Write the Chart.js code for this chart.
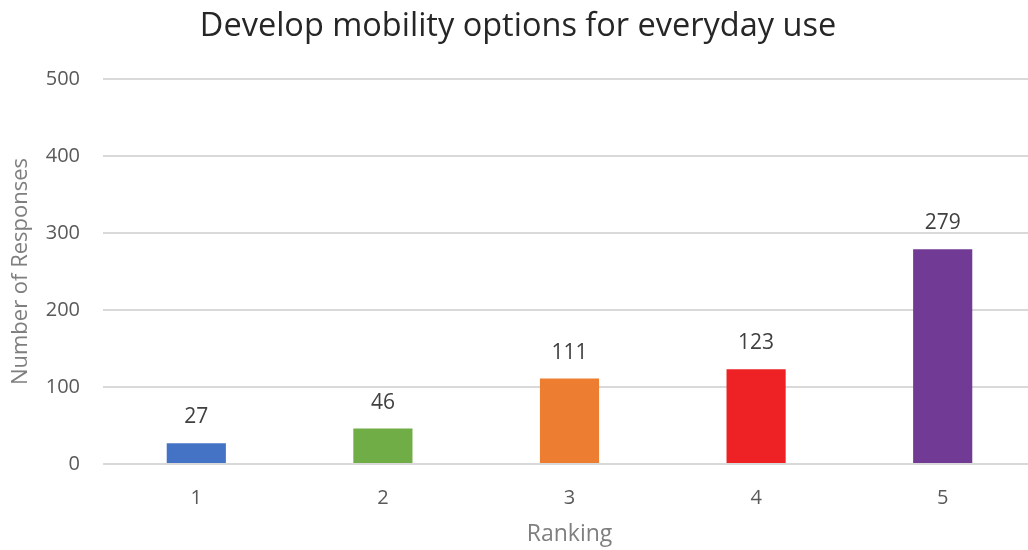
<!DOCTYPE html>
<html>
<head>
<meta charset="utf-8">
<script src="https://cdn.jsdelivr.net/npm/chart.js@4/dist/chart.umd.min.js"></script>
<style>
  html, body { margin: 0; padding: 0; background: #fff; overflow: hidden; }
  #wrap { width: 1028px; height: 550px; overflow: hidden; }
</style>
</head>
<body>
<div id="wrap"><canvas id="myChart" width="1040" height="550"></canvas></div>
<script>
const rankings = ['1', '2', '3', '4', '5'];
const responses = [27, 46, 111, 123, 279];
const barColors = ['#4472C4', '#70AD47', '#ED7D31', '#EE2224', '#703A95'];
const yTicks = [0, 100, 200, 300, 400, 500];

const fontFamily = '"Open Sans", "Liberation Sans", sans-serif';

// etiquetas de valor encima de cada barra
const valueLabels = {
    id: 'valueLabels',
    afterDatasetsDraw(chart) {
        const ctx = chart.ctx;
        const meta = chart.getDatasetMeta(0);
        ctx.save();
        ctx.font = '21px ' + fontFamily;
        ctx.fillStyle = '#404040';
        ctx.textAlign = 'center';
        ctx.textBaseline = 'middle';
        meta.data.forEach((bar, i) => {
            ctx.fillText(String(responses[i]), bar.x, bar.y - 26);
        });
        ctx.restore();
    }
};

const ctx = document.getElementById('myChart').getContext('2d');

new Chart(ctx, {
    type: 'bar',
    data: {
        labels: rankings,
        datasets: [{
            data: responses,
            backgroundColor: barColors,
            borderWidth: 0,
            barPercentage: 0.317,
            categoryPercentage: 1
        }]
    },
    options: {
        responsive: false,
        animation: false,
        layout: { padding: { left: 0, right: 4, top: 0, bottom: 0 } },
        plugins: {
            legend: { display: false },
            tooltip: { enabled: false },
            title: {
                display: true,
                text: 'Develop mobility options for everyday use',
                color: '#262626',
                font: { family: fontFamily, size: 32.5, weight: 'normal' },
                padding: { top: 7, bottom: 33 }
            }
        },
        scales: {
            x: {
                grid: { display: false },
                border: { display: false },
                ticks: {
                    color: '#595959',
                    font: { family: fontFamily, size: 20 },
                    padding: 14
                },
                title: {
                    display: true,
                    text: 'Ranking',
                    color: '#7F7F7F',
                    font: { family: fontFamily, size: 23 },
                    padding: { top: 8, bottom: 2 }
                },
                afterFit(scale) { scale.height = 86; }
            },
            y: {
                min: 0,
                max: 500,
                afterBuildTicks(scale) { scale.ticks = yTicks.map(v => ({ value: v })); },
                grid: {
                    color: '#D9D9D9',
                    lineWidth: 2,
                    drawTicks: false
                },
                border: { display: false },
                ticks: {
                    color: '#595959',
                    font: { family: fontFamily, size: 20 },
                    padding: 23
                },
                title: {
                    display: true,
                    text: 'Number of Responses',
                    color: '#7F7F7F',
                    font: { family: fontFamily, size: 22 },
                    padding: { top: 8, bottom: 0 }
                },
                afterFit(scale) { scale.width = 103; }
            }
        }
    },
    plugins: [valueLabels]
});
</script>
</body>
</html>
